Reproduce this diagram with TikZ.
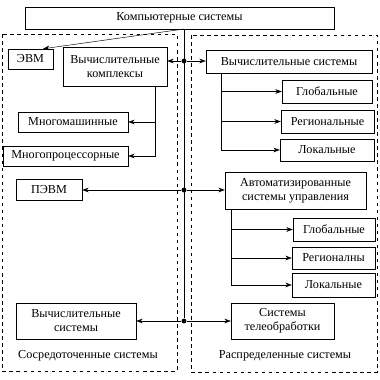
\documentclass[tikz,border=0pt]{standalone}
\usepackage{fontspec}
\setmainfont{Liberation Serif}
\usetikzlibrary{arrows.meta}

\begin{document}
\begin{tikzpicture}[x = 0.03cm, y = -0.03cm, font = \fontsize{10.4}{12}\selectfont,
    box/.style = {draw, inner sep = 0pt, align = center},
    sz/.style 2 args = {minimum width = #1*0.03cm, minimum height = #2*0.03cm},
    arr/.style = {-{Stealth[length = 5.5pt, width = 4pt]}},
    dot/.style = {circle, fill, inner sep = 0pt, minimum size = 4.2pt}]
    \useasboundingbox (0,0) rectangle (380,380);

    % Top box
    \node[box, sz = {309}{22}] (cs) at (179.5,18) {Компьютерные системы};

    % Draw the two groups
    \draw[dashed] (2,34) rectangle (177,371);
    \draw[dashed] (191,35) rectangle (377,372);
    \node (sos) at (88,356) {Сосредоточенные системы};
    \node (ras) at (285,356) {Распределенные системы};

    % Left group
    \node[box, sz = {45}{20}] (evm) at (30.5,59) {ЭВМ};
    \node[box, sz = {104}{39}] (vk) at (115,66.5) {Вычислительные\\комплексы};
    \node[box, sz = {110}{20}] (mm) at (73,122) {Многомашинные};
    \node[box, sz = {125}{20}] (mp) at (65.5,156) {Многопроцессорные};
    \node[box, sz = {66}{21}] (pevm) at (49,189.5) {ПЭВМ};
    \node[box, sz = {120}{36}] (vsys) at (76,321) {Вычислительные\\системы};

    % Right group
    \node[box, sz = {166}{23}] (vs) at (289,61.5) {Вычислительные системы};
    \node[box, sz = {90}{23}] (vsg) at (327,91.5) {Глобальные};
    \node[box, sz = {93}{23}] (vsr) at (327.5,121.5) {Региональные};
    \node[box, sz = {94}{22}] (vsl) at (327,150) {Локальные};
    \node[box, sz = {141}{37}] (asu) at (295.5,190.5) {Автоматизированные\\системы управления};
    \node[box, sz = {82}{23}] (asug) at (334,229.5) {Глобальные};
    \node[box, sz = {83}{22}] (asur) at (333.5,258) {Регионалны};
    \node[box, sz = {83}{24}] (asul) at (333.5,285) {Локальные};
    \node[box, sz = {103}{36}] (tele) at (282.5,321) {Системы\\телеобработки};

    % Trunk with the three junctions
    \coordinate (t0) at (184,29);
    \node[dot] (d1) at (184,61) {};
    \node[dot] (d2) at (184,190) {};
    \node[dot] (d3) at (184,321) {};
    \draw (t0) -- (d3);
    \draw[arr] (t0) -- (evm.39);

    \draw[arr] (d1) -- (d1 -| vk.east);
    \draw[arr] (d1) -- (d1 -| vs.west);
    \draw[arr] (d2) -- (d2 -| pevm.east);
    \draw[arr] (d2) -- (d2 -| asu.west);
    \draw[arr] (d3) -- (d3 -| vsys.east);
    \draw[arr] (d3) -- (d3 -| tele.west);

    % Branches
    \coordinate (vkb) at (155,86);
    \draw[arr] (vkb) |- (mm.east);
    \draw[arr] (vkb) |- (mp.east);

    \coordinate (vsb) at (221,73);
    \draw[arr] (vsb) |- (vsg.west);
    \draw[arr] (vsb) |- (vsr.west);
    \draw[arr] (vsb) |- (vsl.west);

    \coordinate (asub) at (231,209);
    \draw[arr] (asub) |- (asug.west);
    \draw[arr] (asub) |- (asur.west);
    \draw[arr] (asub) |- (asul.west);
\end{tikzpicture}
\end{document}
